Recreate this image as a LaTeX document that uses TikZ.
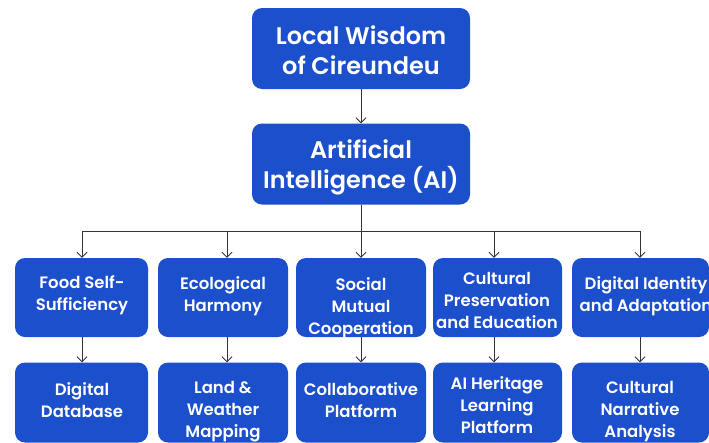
\documentclass[tikz,border=0pt]{standalone}
\usepackage{fontspec}
\setmainfont{Poppins}[UprightFont=* SemiBold]
\usetikzlibrary{arrows.meta}
\definecolor{boxblue}{HTML}{1C4FCB}
\definecolor{linegray}{HTML}{333333}
\tikzset{
  box/.style={draw=none, fill=boxblue, rounded corners=10pt, inner sep=0pt},
  topbox/.style={box, minimum width=218pt, minimum height=81pt},
  cellbox/.style={box, minimum height=79pt},
  toplbl/.style={text=white, align=center, font=\fontsize{24}{30}\selectfont, inner sep=0pt},
  lbl/.style={text=white, align=center, font=\fontsize{16.5}{22}\selectfont, inner sep=0pt},
  link/.style={draw=linegray, line width=0.8pt, -{Straight Barb[length=5pt,width=10pt]}},
  plain/.style={draw=linegray, line width=0.8pt},
}
\begin{document}
\begin{tikzpicture}[x=1pt,y=-1pt]
\useasboundingbox (0,0) rectangle (709,442);
\clip (0,0) rectangle (709,442);
\fill[white] (0,0) rectangle (709,442);

% head boxes
\node[topbox] (wisdom) at (361,48.5) {};
\node[toplbl] at (361,50.5) {Local Wisdom\\of Cireundeu};
\node[topbox] (ai) at (361,164) {};
\node[toplbl] at (361,167.5) {Artificial\\Intelligence (AI)};
\draw[link] (wisdom) -- (ai);

% first row
\node[cellbox, minimum width=133pt] (a1) at (81.5,297.5) {};
\node[cellbox, minimum width=130pt] (a2) at (223,297.5) {};
\node[cellbox, minimum width=130pt] (a3) at (361,297.5) {};
\node[cellbox, minimum width=129pt] (a4) at (497.5,297.5) {};
\node[cellbox, minimum width=137pt] (a5) at (640.5,297.5) {};
\node[lbl] at (82,295) {Food Self-\\Sufficiency};
\node[lbl] at (223,296) {Ecological\\Harmony};
\node[lbl] at (361,308) {Social\\Mutual\\Cooperation};
\node[lbl] at (497,300.5) {Cultural\\Preservation\\and Education};
\node[lbl] at (646,296.5) {Digital Identity\\and Adaptation};

% second row
\node[cellbox, minimum width=133pt, minimum height=80pt] (b1) at (81.5,402.5) {};
\node[cellbox, minimum width=130pt, minimum height=80pt] (b2) at (223,402.5) {};
\node[cellbox, minimum width=130pt, minimum height=80pt] (b3) at (361,402.5) {};
\node[cellbox, minimum width=129pt, minimum height=80pt] (b4) at (497.5,402.5) {};
\node[cellbox, minimum width=137pt, minimum height=80pt] (b5) at (640.5,402.5) {};
\node[lbl] at (82,400) {Digital\\Database};
\node[lbl] at (223,411.5) {Land \&\\Weather\\Mapping};
\node[lbl] at (361,400.5) {Collaborative\\Platform};
\node[lbl] at (497,405) {AI Heritage\\Learning\\Platform};
\node[lbl] at (640,411.5) {Cultural\\Narrative\\Analysis};

% branching from the AI box
\coordinate (j1) at (82,231);
\coordinate (j2) at (227,231);
\coordinate (j3) at (361,231);
\coordinate (j4) at (494,231);
\coordinate (j5) at (640,231);
\draw[plain] (ai.south) -- (j3);
\draw[plain] (j1) -- (j5);
\draw[link] (j1) -- (j1 |- a1.north);
\draw[link] (j2) -- (j2 |- a2.north);
\draw[link] (j3) -- (j3 |- a3.north);
\draw[link] (j4) -- (j4 |- a4.north);
\draw[link] (j5) -- (j5 |- a5.north);

% links down to the second row
\draw[link] (a1.south -| j1) -- (j1 |- b1.north);
\draw[link] (a2.south -| j2) -- (j2 |- b2.north);
\draw[link] (a3.south -| j3) -- (j3 |- b3.north);
\draw[link] (a4.south -| j4) -- (j4 |- b4.north);
\draw[link] (a5.south -| j5) -- (j5 |- b5.north);
\end{tikzpicture}
\end{document}
